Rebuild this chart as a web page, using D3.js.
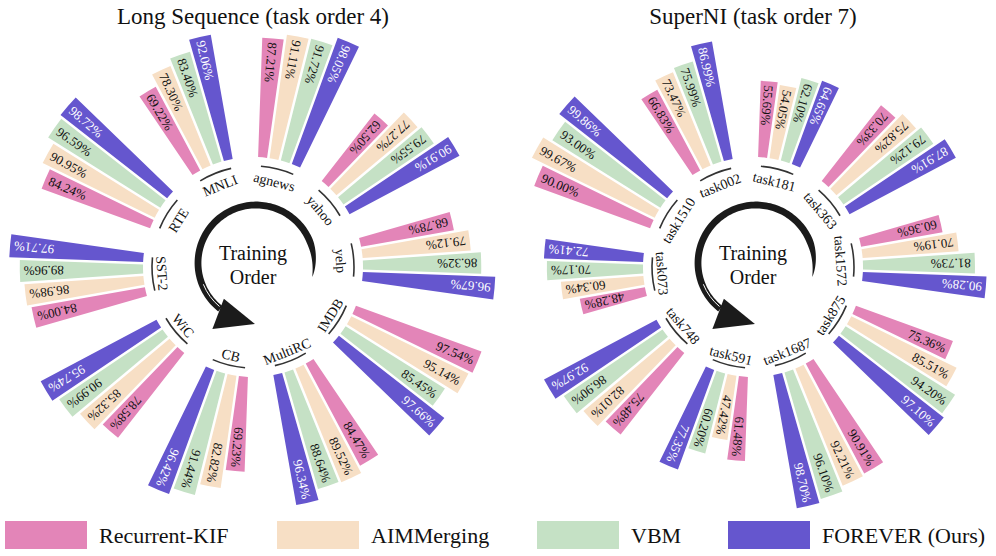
<!DOCTYPE html>
<html>
<head>
<meta charset="utf-8">
<script src="https://cdn.jsdelivr.net/npm/d3@7"></script>
<style>
  body { margin: 0; background: #fff; }
  svg { display: block; font-family: "Liberation Serif", "Times New Roman", serif; }
</style>
</head>
<body>
<svg id="chart"></svg>
<script>
// methods, in bar order inside each group (clockwise)
const methods = ['Recurrent-KIF', 'AIMMerging', 'VBM', 'FOREVER (Ours)'];
const colors = ['#E385B8', '#F7DFC5', '#C5E1C5', '#6556CE'];

// Long Sequence, tasks clockwise from the top
const longTasks = ['agnews', 'yahoo', 'yelp', 'IMDB', 'MultiRC', 'CB', 'WiC', 'SST-2', 'RTE', 'MNLI'];
const longKIF  = [87.21, 62.50, 68.78, 97.54, 84.47, 69.23, 78.58, 84.00, 84.24, 69.22];
const longAIM  = [91.11, 77.27, 79.12, 95.14, 89.52, 82.82, 85.32, 86.98, 90.95, 78.30];
const longVBM  = [91.72, 79.55, 86.32, 85.45, 88.64, 91.44, 90.99, 89.96, 96.59, 83.40];
const longOurs = [98.05, 90.91, 96.67, 97.66, 96.34, 96.42, 95.74, 97.71, 98.72, 92.06];

// SuperNI, tasks clockwise from the top
const niTasks = ['task181', 'task363', 'task1572', 'task875', 'task1687', 'task591', 'task748', 'task073', 'task1510', 'task002'];
const niKIF  = [55.69, 70.33, 60.36, 75.36, 90.91, 61.48, 75.48, 48.28, 90.00, 66.83];
const niAIM  = [54.05, 75.82, 70.19, 85.51, 92.21, 47.42, 82.01, 60.34, 99.67, 73.47];
const niVBM  = [62.10, 79.12, 81.73, 94.20, 96.10, 60.20, 86.90, 70.17, 93.00, 75.99];
const niOurs = [64.65, 87.91, 90.28, 97.10, 98.70, 77.35, 92.97, 72.41, 99.86, 86.99];

const W = 996, H = 556;
const svg = d3.select('#chart').attr('width', W).attr('height', H);

const rad = (deg) => deg * Math.PI / 180;
// angle measured clockwise from 12 o'clock
const polar = (r, deg) => [r * Math.sin(rad(deg)), -r * Math.cos(rad(deg))];

const groupAngle = d3.scaleLinear().domain([0, 10]).range([14, 374]);
const barOffset = d3.scalePoint().domain(methods).range([-9, 9]);
const rScale = d3.scaleLinear().domain([0, 100]).range([110, 247]);

const barArc = d3.arc()
  .innerRadius(rScale(0))
  .outerRadius((d) => rScale(d.value))
  .startAngle((d) => rad(d.angle - 3))
  .endAngle((d) => rad(d.angle + 3))
  .padAngle(0.025)
  .padRadius(100);

function drawArrow(g) {
  // brush-like arc running counter-clockwise, tapering at its tail
  const R = 58, a0 = 104, a1 = -142, n = 120;
  const outer = [], inner = [];
  for (let k = 0; k <= n; k++) {
    const t = k / n,
      a = a0 + (a1 - a0) * t,
      w = 3.4 * Math.pow(Math.min(1, t / 0.14), 0.8);
    outer.push(polar(R + w, a));
    inner.push(polar(R - w, a));
  }
  const pts = outer.concat(inner.reverse());
  g.append('path')
    .attr('d', 'M' + pts.map((p) => p.join(',')).join('L') + 'Z')
    .attr('fill', '#1b1b1b');
  // thin split in the stroke near the head
  const split = d3.path();
  split.arc(0, 0, R - 1.2, rad(-140 - 90), rad(-112 - 90));
  g.append('path').attr('d', split.toString())
    .attr('fill', 'none').attr('stroke', '#fff').attr('stroke-width', 1);
  const head = [polar(48, 222), polar(79, 213.5), polar(61, 181)];
  g.append('path')
    .attr('d', 'M' + head.map((p) => p.join(',')).join('L') + 'Z')
    .attr('fill', '#1b1b1b');
  g.append('text').attr('x', -3).attr('y', -3)
    .attr('text-anchor', 'middle').attr('font-size', 20).attr('fill', '#111')
    .text('Training');
  g.append('text').attr('x', -3).attr('y', 21)
    .attr('text-anchor', 'middle').attr('font-size', 20).attr('fill', '#111')
    .text('Order');
}

function drawPanel(cx, cy, title, tasks, series) {
  const g = svg.append('g').attr('transform', 'translate(' + cx + ',' + cy + ')');

  const bars = [];
  tasks.forEach((task, ti) => {
    const ga = groupAngle(ti),
      // half-turns needed so the group's label rotation falls in [0, 180)
      k = -Math.floor((ga - 90) / 180);
    methods.forEach((m, mi) => {
      bars.push({
        task: task, method: m, idx: mi, k: k,
        value: series[mi][ti],
        angle: ga + barOffset(m)
      });
    });
  });

  g.selectAll('path.bar')
    .data(bars)
    .enter()
    .append('path')
    .attr('class', 'bar')
    .attr('d', barArc)
    .attr('fill', (d) => colors[d.idx]);

  // value labels along each bar, near its outer end
  g.selectAll('text.val')
    .data(bars)
    .enter()
    .append('text')
    .attr('class', 'val')
    .each(function(d) {
      const rot = d.angle - 90 + 180 * d.k,
        outward = Math.abs(d.k) % 2 === 0,
        p = polar(rScale(d.value) - 4, d.angle);
      d3.select(this)
        .attr('transform', 'translate(' + p[0] + ',' + p[1] + ') rotate(' + rot + ')')
        .attr('text-anchor', outward ? 'end' : 'start')
        .attr('dy', '0.35em')
        .attr('font-size', 13)
        .attr('fill', d.idx === 3 ? '#fff' : '#111')
        .text(d.value.toFixed(2) + '%');
    });

  // task names with a short arc
  tasks.forEach((task, ti) => {
    const a = groupAngle(ti),
      arcPath = d3.path();
    arcPath.arc(0, 0, 101, rad(a - 9.5 - 90), rad(a + 9.5 - 90));
    g.append('path').attr('d', arcPath.toString())
      .attr('fill', 'none').attr('stroke', '#333').attr('stroke-width', 1.6);
    const norm = ((a % 360) + 360) % 360,
      flip = norm > 90 && norm < 270,
      p = polar(flip ? 91 : 88, a);
    g.append('text')
      .attr('transform', 'translate(' + p[0] + ',' + p[1] + ') rotate(' + (flip ? a - 180 : a) + ')')
      .attr('text-anchor', 'middle')
      .attr('dy', '0.35em')
      .attr('font-size', 14)
      .attr('fill', '#111')
      .text(task);
  });

  drawArrow(g.append('g').attr('transform', 'translate(3,-4)'));

  svg.append('text')
    .attr('x', cx).attr('y', 24)
    .attr('text-anchor', 'middle')
    .attr('font-size', 23)
    .attr('fill', '#111')
    .text(title);
}

drawPanel(253, 267, 'Long Sequence (task order 4)', longTasks, [longKIF, longAIM, longVBM, longOurs]);
drawPanel(753, 267, 'SuperNI (task order 7)', niTasks, [niKIF, niAIM, niVBM, niOurs]);

// legend
const legendX = [5, 277, 537, 728];
const $legend = svg.append('g').attr('transform', 'translate(0,521)');
$legend.selectAll('rect')
  .data(methods)
  .enter()
  .append('rect')
  .attr('x', (d, i) => legendX[i])
  .attr('y', 0)
  .attr('width', 82)
  .attr('height', 28)
  .attr('fill', (d, i) => colors[i]);
$legend.selectAll('text')
  .data(methods)
  .enter()
  .append('text')
  .attr('x', (d, i) => legendX[i] + 94)
  .attr('y', 22)
  .attr('font-size', 22)
  .attr('fill', '#111')
  .text((d) => d);
</script>
</body>
</html>
